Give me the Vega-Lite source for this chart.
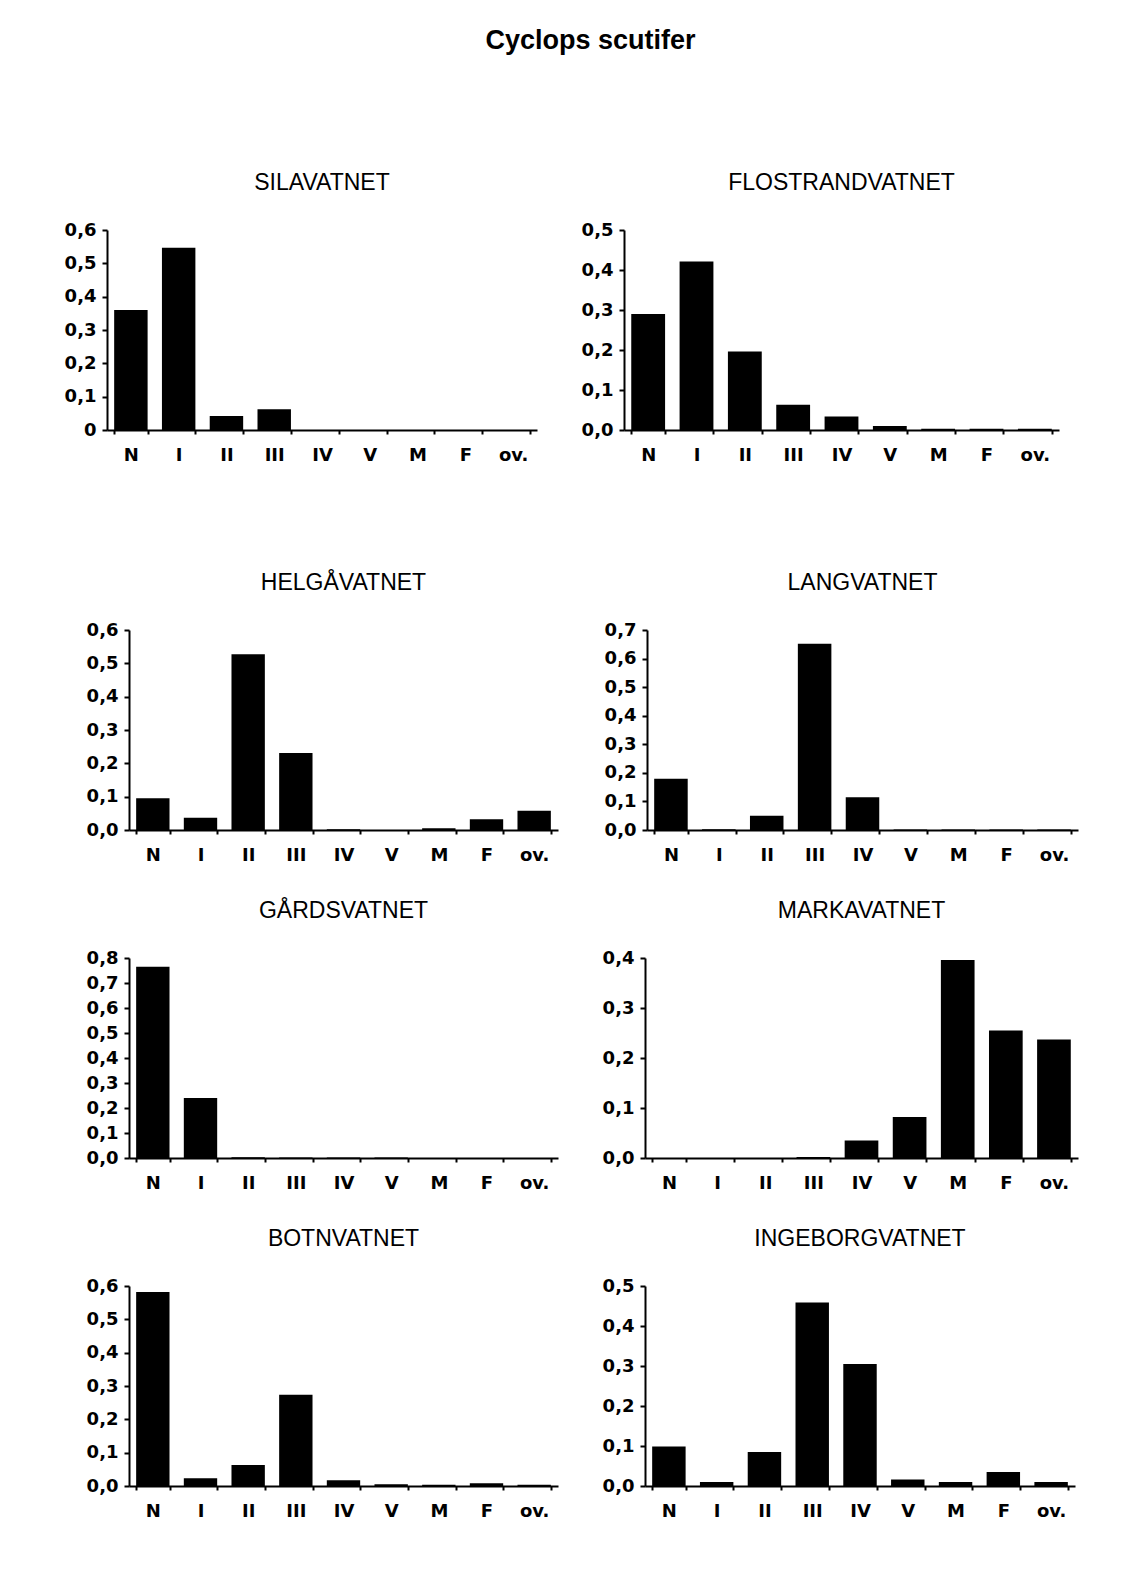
{
  "$schema": "https://vega.github.io/schema/vega-lite/v6.json",
  "background": "white",
  "padding": {"left": 17, "top": 27, "right": 10, "bottom": 10},
  "title": {"text": "Cyclops scutifer", "fontSize": 27, "font": "Liberation Sans", "fontWeight": "bold", "anchor": "middle", "frame": "bounds", "offset": 117, "dx": 43, "color": "black"},
  "datasets": {
    "d": [
      {"lake": "SILAVATNET", "stage": "N", "value": 0.36},
      {"lake": "SILAVATNET", "stage": "I", "value": 0.547},
      {"lake": "SILAVATNET", "stage": "II", "value": 0.042},
      {"lake": "SILAVATNET", "stage": "III", "value": 0.062},
      {"lake": "SILAVATNET", "stage": "IV", "value": 0.0},
      {"lake": "SILAVATNET", "stage": "V", "value": 0.0},
      {"lake": "SILAVATNET", "stage": "M", "value": 0.0},
      {"lake": "SILAVATNET", "stage": "F", "value": 0.0},
      {"lake": "SILAVATNET", "stage": "ov.", "value": 0.0},
      {"lake": "FLOSTRANDVATNET", "stage": "N", "value": 0.29},
      {"lake": "FLOSTRANDVATNET", "stage": "I", "value": 0.421},
      {"lake": "FLOSTRANDVATNET", "stage": "II", "value": 0.196},
      {"lake": "FLOSTRANDVATNET", "stage": "III", "value": 0.063},
      {"lake": "FLOSTRANDVATNET", "stage": "IV", "value": 0.034},
      {"lake": "FLOSTRANDVATNET", "stage": "V", "value": 0.01},
      {"lake": "FLOSTRANDVATNET", "stage": "M", "value": 0.003},
      {"lake": "FLOSTRANDVATNET", "stage": "F", "value": 0.003},
      {"lake": "FLOSTRANDVATNET", "stage": "ov.", "value": 0.003},
      {"lake": "HELGÅVATNET", "stage": "N", "value": 0.095},
      {"lake": "HELGÅVATNET", "stage": "I", "value": 0.037},
      {"lake": "HELGÅVATNET", "stage": "II", "value": 0.527},
      {"lake": "HELGÅVATNET", "stage": "III", "value": 0.231},
      {"lake": "HELGÅVATNET", "stage": "IV", "value": 0.002},
      {"lake": "HELGÅVATNET", "stage": "V", "value": 0.0},
      {"lake": "HELGÅVATNET", "stage": "M", "value": 0.005},
      {"lake": "HELGÅVATNET", "stage": "F", "value": 0.032},
      {"lake": "HELGÅVATNET", "stage": "ov.", "value": 0.058},
      {"lake": "LANGVATNET", "stage": "N", "value": 0.179},
      {"lake": "LANGVATNET", "stage": "I", "value": 0.003},
      {"lake": "LANGVATNET", "stage": "II", "value": 0.05},
      {"lake": "LANGVATNET", "stage": "III", "value": 0.652},
      {"lake": "LANGVATNET", "stage": "IV", "value": 0.115},
      {"lake": "LANGVATNET", "stage": "V", "value": 0.002},
      {"lake": "LANGVATNET", "stage": "M", "value": 0.002},
      {"lake": "LANGVATNET", "stage": "F", "value": 0.002},
      {"lake": "LANGVATNET", "stage": "ov.", "value": 0.002},
      {"lake": "GÅRDSVATNET", "stage": "N", "value": 0.765},
      {"lake": "GÅRDSVATNET", "stage": "I", "value": 0.24},
      {"lake": "GÅRDSVATNET", "stage": "II", "value": 0.003},
      {"lake": "GÅRDSVATNET", "stage": "III", "value": 0.002},
      {"lake": "GÅRDSVATNET", "stage": "IV", "value": 0.002},
      {"lake": "GÅRDSVATNET", "stage": "V", "value": 0.002},
      {"lake": "GÅRDSVATNET", "stage": "M", "value": 0.0},
      {"lake": "GÅRDSVATNET", "stage": "F", "value": 0.0},
      {"lake": "GÅRDSVATNET", "stage": "ov.", "value": 0.0},
      {"lake": "MARKAVATNET", "stage": "N", "value": 0.0},
      {"lake": "MARKAVATNET", "stage": "I", "value": 0.0},
      {"lake": "MARKAVATNET", "stage": "II", "value": 0.0},
      {"lake": "MARKAVATNET", "stage": "III", "value": 0.002},
      {"lake": "MARKAVATNET", "stage": "IV", "value": 0.035},
      {"lake": "MARKAVATNET", "stage": "V", "value": 0.082},
      {"lake": "MARKAVATNET", "stage": "M", "value": 0.396},
      {"lake": "MARKAVATNET", "stage": "F", "value": 0.255},
      {"lake": "MARKAVATNET", "stage": "ov.", "value": 0.237},
      {"lake": "BOTNVATNET", "stage": "N", "value": 0.582},
      {"lake": "BOTNVATNET", "stage": "I", "value": 0.023},
      {"lake": "BOTNVATNET", "stage": "II", "value": 0.063},
      {"lake": "BOTNVATNET", "stage": "III", "value": 0.274},
      {"lake": "BOTNVATNET", "stage": "IV", "value": 0.017},
      {"lake": "BOTNVATNET", "stage": "V", "value": 0.005},
      {"lake": "BOTNVATNET", "stage": "M", "value": 0.004},
      {"lake": "BOTNVATNET", "stage": "F", "value": 0.008},
      {"lake": "BOTNVATNET", "stage": "ov.", "value": 0.004},
      {"lake": "INGEBORGVATNET", "stage": "N", "value": 0.099},
      {"lake": "INGEBORGVATNET", "stage": "I", "value": 0.01},
      {"lake": "INGEBORGVATNET", "stage": "II", "value": 0.085},
      {"lake": "INGEBORGVATNET", "stage": "III", "value": 0.459},
      {"lake": "INGEBORGVATNET", "stage": "IV", "value": 0.305},
      {"lake": "INGEBORGVATNET", "stage": "V", "value": 0.016},
      {"lake": "INGEBORGVATNET", "stage": "M", "value": 0.01},
      {"lake": "INGEBORGVATNET", "stage": "F", "value": 0.035},
      {"lake": "INGEBORGVATNET", "stage": "ov.", "value": 0.01}
    ]
  },
  "spacing": 108,
  "vconcat": [
    {
      "hconcat": [
        {"width": 1, "height": 1, "data": {"values": []}, "mark": "point"},
        {
          "title": "SILAVATNET",
          "width": 430, "height": 200,
          "data": {"name": "d"},
          "transform": [{"filter": "datum.lake == 'SILAVATNET'"}],
          "mark": "bar",
          "encoding": {
            "x": {"field": "stage", "type": "nominal", "sort": ["N", "I", "II", "III", "IV", "V", "M", "F", "ov."]},
            "y": {"field": "value", "type": "quantitative", "scale": {"domain": [0, 0.6], "nice": false},
                  "axis": {"values": [0, 0.1, 0.2, 0.3, 0.4, 0.5, 0.6], "minExtent": 50, "labelExpr": "datum.value == 0 ? '0' : replace(format(datum.value, '.1f'), '.', ',')"}}
          }
        },
        {
          "title": "FLOSTRANDVATNET",
          "width": 435, "height": 200,
          "data": {"name": "d"},
          "transform": [{"filter": "datum.lake == 'FLOSTRANDVATNET'"}],
          "mark": "bar",
          "encoding": {
            "x": {"field": "stage", "type": "nominal", "sort": ["N", "I", "II", "III", "IV", "V", "M", "F", "ov."]},
            "y": {"field": "value", "type": "quantitative", "scale": {"domain": [0, 0.5], "nice": false},
                  "axis": {"values": [0, 0.1, 0.2, 0.3, 0.4, 0.5], "minExtent": 48}}
          }
        }
      ]
    },
    {
      "spacing": 36,
      "vconcat": [
        {
          "hconcat": [
            {"width": 23, "height": 1, "data": {"values": []}, "mark": "point"},
            {
              "title": "HELGÅVATNET",
              "width": 429, "height": 200,
              "data": {"name": "d"},
              "transform": [{"filter": "datum.lake == 'HELGÅVATNET'"}],
              "mark": "bar",
              "encoding": {
                "x": {"field": "stage", "type": "nominal", "sort": ["N", "I", "II", "III", "IV", "V", "M", "F", "ov."]},
                "y": {"field": "value", "type": "quantitative", "scale": {"domain": [0, 0.6], "nice": false},
                      "axis": {"values": [0, 0.1, 0.2, 0.3, 0.4, 0.5, 0.6], "minExtent": 50}}
              }
            },
            {
              "title": "LANGVATNET",
              "width": 431, "height": 200,
              "data": {"name": "d"},
              "transform": [{"filter": "datum.lake == 'LANGVATNET'"}],
              "mark": "bar",
              "encoding": {
                "x": {"field": "stage", "type": "nominal", "sort": ["N", "I", "II", "III", "IV", "V", "M", "F", "ov."]},
                "y": {"field": "value", "type": "quantitative", "scale": {"domain": [0, 0.7], "nice": false},
                      "axis": {"values": [0, 0.1, 0.2, 0.3, 0.4, 0.5, 0.6, 0.7], "minExtent": 50}}
              }
            }
          ]
        },
        {
          "hconcat": [
            {"width": 23, "height": 1, "data": {"values": []}, "mark": "point"},
            {
              "title": "GÅRDSVATNET",
              "width": 429, "height": 200,
              "data": {"name": "d"},
              "transform": [{"filter": "datum.lake == 'GÅRDSVATNET'"}],
              "mark": "bar",
              "encoding": {
                "x": {"field": "stage", "type": "nominal", "sort": ["N", "I", "II", "III", "IV", "V", "M", "F", "ov."]},
                "y": {"field": "value", "type": "quantitative", "scale": {"domain": [0, 0.8], "nice": false},
                      "axis": {"values": [0, 0.1, 0.2, 0.3, 0.4, 0.5, 0.6, 0.7, 0.8], "minExtent": 50}}
              }
            },
            {
              "title": "MARKAVATNET",
              "width": 433, "height": 200,
              "data": {"name": "d"},
              "transform": [{"filter": "datum.lake == 'MARKAVATNET'"}],
              "mark": "bar",
              "encoding": {
                "x": {"field": "stage", "type": "nominal", "sort": ["N", "I", "II", "III", "IV", "V", "M", "F", "ov."]},
                "y": {"field": "value", "type": "quantitative", "scale": {"domain": [0, 0.4], "nice": false},
                      "axis": {"values": [0, 0.1, 0.2, 0.3, 0.4], "minExtent": 48}}
              }
            }
          ]
        },
        {
          "hconcat": [
            {"width": 23, "height": 1, "data": {"values": []}, "mark": "point"},
            {
              "title": "BOTNVATNET",
              "width": 429, "height": 200,
              "data": {"name": "d"},
              "transform": [{"filter": "datum.lake == 'BOTNVATNET'"}],
              "mark": "bar",
              "encoding": {
                "x": {"field": "stage", "type": "nominal", "sort": ["N", "I", "II", "III", "IV", "V", "M", "F", "ov."]},
                "y": {"field": "value", "type": "quantitative", "scale": {"domain": [0, 0.6], "nice": false},
                      "axis": {"values": [0, 0.1, 0.2, 0.3, 0.4, 0.5, 0.6], "minExtent": 50}}
              }
            },
            {
              "title": "INGEBORGVATNET",
              "width": 430, "height": 200,
              "data": {"name": "d"},
              "transform": [{"filter": "datum.lake == 'INGEBORGVATNET'"}],
              "mark": "bar",
              "encoding": {
                "x": {"field": "stage", "type": "nominal", "sort": ["N", "I", "II", "III", "IV", "V", "M", "F", "ov."]},
                "y": {"field": "value", "type": "quantitative", "scale": {"domain": [0, 0.5], "nice": false},
                      "axis": {"values": [0, 0.1, 0.2, 0.3, 0.4, 0.5], "minExtent": 48}}
              }
            }
          ]
        }
      ]
    }
  ],
  "config": {
    "concat": {"spacing": 39},
    "view": {"stroke": null},
    "bar": {"color": "black"},
    "scale": {"bandPaddingInner": 0.3, "bandPaddingOuter": 0.15},
    "title": {"font": "Liberation Sans", "fontSize": 23, "fontWeight": "normal", "color": "black", "frame": "group", "offset": 26},
    "axis": {
      "title": null,
      "grid": false,
      "domainColor": "black",
      "domainWidth": 2,
      "tickColor": "black",
      "tickWidth": 2,
      "labelColor": "black",
      "labelFont": "DejaVu Sans",
      "labelFontWeight": "bold",
      "labelFontSize": 18
    },
    "axisX": {"labelAngle": 0, "tickBand": "extent", "tickSize": 4, "labelPadding": 12},
    "axisY": {"tickSize": 5, "labelPadding": 6, "labelExpr": "replace(format(datum.value, '.1f'), '.', ',')"}
  }
}
